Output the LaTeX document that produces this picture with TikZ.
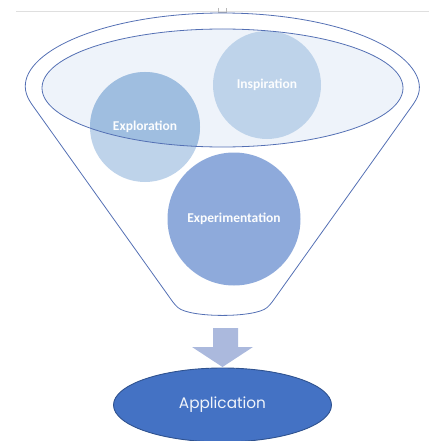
\documentclass[tikz,border=0pt]{standalone}
\usepackage{fontspec}
\setmainfont{Carlito}
\newfontfamily\appfont{Poppins}
\usetikzlibrary{shapes.geometric}

\definecolor{trichter}{HTML}{5470B4}
\definecolor{innen}{HTML}{EEF3FA}
\definecolor{hell}{HTML}{BED3EA}
\definecolor{mittel}{HTML}{9FBEE0}
\definecolor{dunkel}{HTML}{8EAADB}
\definecolor{pfeil}{HTML}{ABB9DD}
\definecolor{app}{HTML}{4472C4}
\definecolor{appRand}{HTML}{2F528F}

\tikzset{
  linie/.style={draw=trichter, line width=0.8pt},
  kreis/.style={circle, inner sep=0pt, text=white!96!hell, font=\bfseries\fontsize{13.5}{15}\selectfont}
}

\begin{document}
\begin{tikzpicture}[x=1pt,y=-1pt]
   \useasboundingbox (0,0) rectangle (429,441);

   %% Linie oben
   \draw[gray!25, line width=0.8pt] (16,11) -- (429,11);
   \draw[gray!55, line width=0.5pt] (218,8) -- (218,12.5) -- (226,12.5) -- (226,8);

   %% Trichter
   \draw[linie, rounded corners=4pt] (222.5,88) ++(170:196 and 75)
      arc[start angle=170, end angle=370, x radius=196, y radius=75]
      -- (270,305) .. controls (255,318) and (190,318) .. (175,305) -- cycle;

   %% Innere Ellipse
   \fill[innen] (222.5,88) ellipse [x radius=180.5, y radius=59];

   %% Kreise
   \node[kreis, fill=hell, minimum size=108] (inspiration) at (267,85) {Inspiration};
   \fill[hell] (145,127) circle (55);
   \begin{scope}
      \clip (222.5,88) ellipse [x radius=180.5, y radius=59];
      \fill[mittel] (145,127) circle (55);
   \end{scope}
   \node[kreis, minimum size=110] (exploration) at (145,127) {Exploration};
   \draw[linie] (222.5,88) ellipse [x radius=180.5, y radius=59];
   \node[kreis, fill=dunkel, minimum size=133] (experimentation) at (234,219) {Experimentation};

   %% Pfeil
   \fill[pfeil] (213,328) -- (238,328) -- (238,347) -- (253,347) -- (222.5,367)
      -- (192,347) -- (213,347) -- cycle;

   %% Ergebnis
   \node[ellipse, draw=appRand, line width=0.9pt, fill=app, minimum width=218, minimum height=74,
      text=white!92!app, font=\appfont\fontsize{15.3}{17}\selectfont] (application) at (222.5,405) {Application};
\end{tikzpicture}
\end{document}
